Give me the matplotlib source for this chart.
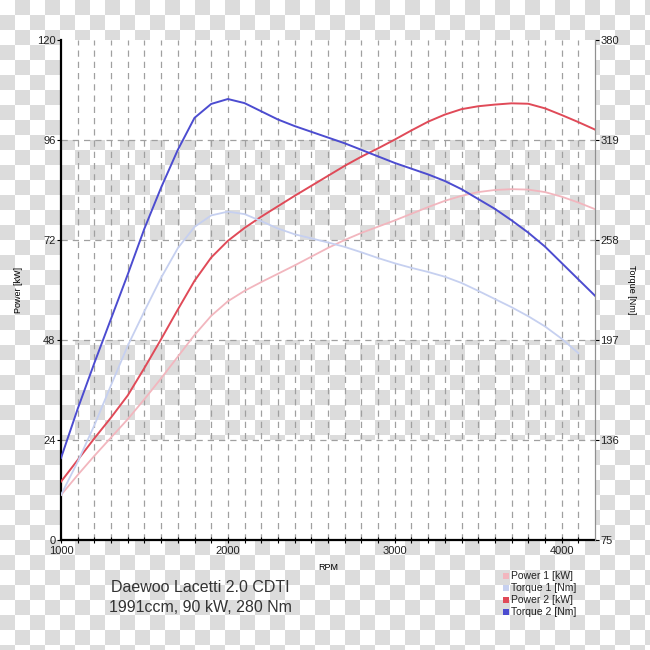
import numpy as np
import matplotlib
matplotlib.use("Agg")
import matplotlib.pyplot as plt
from matplotlib.patches import Rectangle

plt.rcParams['font.family'] = ['Liberation Sans', 'DejaVu Sans']

rpm = np.arange(1000, 4300, 100)

power1 = [10.8, 15.6, 20.2, 24.6, 29.0, 33.8, 38.8, 44.0, 49.2, 53.8, 57.3,
          59.8, 61.9, 63.9, 65.9, 68.0, 70.1, 72.0, 73.7, 75.2, 76.7, 78.3,
          79.9, 81.4, 82.6, 83.5, 84.0, 84.2, 84.1, 83.5, 82.4, 81.0, 79.4]
torque1 = [102.5, 122.7, 145.0, 169.5, 193.5, 214.6, 235.0, 253.0, 266.0,
           273.0, 275.3, 273.8, 269.5, 265.0, 261.5, 259.0, 256.5, 253.8,
           250.5, 247.0, 243.8, 241.0, 238.5, 235.6, 231.8, 227.0, 222.0,
           217.0, 211.5, 205.3, 197.8, 189.0]
power2 = [14.0, 19.2, 24.4, 29.4, 34.7, 41.3, 48.2, 55.3, 62.2, 67.8, 71.8,
          74.9, 77.6, 80.1, 82.6, 85.0, 87.4, 89.8, 92.0, 94.0, 96.1, 98.3,
          100.4, 102.1, 103.4, 104.1, 104.5, 104.8, 104.7, 103.6, 102.0,
          100.3, 98.5]
torque2 = [125, 155, 183, 210, 237, 265, 290, 313, 332.5, 341, 344, 341.5,
           336.5, 331.5, 327.5, 324, 320.5, 317, 313, 309, 305, 301.5, 298,
           294, 289, 283, 277, 270, 262.5, 254, 244, 234, 224]

labels = ["Power 1 [kW]", "Torque 1 [Nm]", "Power 2 [kW]", "Torque 2 [Nm]"]
colors = ["#f2b6be", "#c6d0f0", "#e04a58", "#4c4cd0"]

kw_ticks = [0, 24, 48, 72, 96, 120]
nm_ticks = [75, 136, 197, 258, 319, 380]

fig = plt.figure(figsize=(6.5, 6.5), dpi=100)

# checkerboard background (transparent png look)
yy, xx = np.mgrid[0:650, 0:650]
chk = ((xx // 15 + yy // 15) % 2).astype(float)
bg = np.ones((650, 650, 3))
bg[chk == 1] = 220 / 255
fig.figimage(bg, xo=0, yo=0, origin='upper', zorder=-10)

ax = fig.add_axes([61 / 650, 1 - 540 / 650, 534 / 650, 500 / 650])
ax.set_facecolor('none')
ax.set_xlim(1000, 4200)
ax.set_ylim(0, 120)

for lo, hi in [(0, 24), (48, 72), (96, 120)]:
    ax.axhspan(lo, hi, color='white', zorder=0, lw=0)

dash = (0, (5, 4))
for x in range(1100, 4200, 100):
    ax.axvline(x, color='#a0a0a0', lw=0.9, ls=dash, zorder=1)
for y in kw_ticks[1:-1]:
    ax.axhline(y, color='#a0a0a0', lw=0.9, ls=dash, zorder=1)

ax.set_xticks([1000, 2000, 3000, 4000])
ax.set_xticks(range(1000, 4200, 100), minor=True)
ax.set_yticks(kw_ticks)
ax.tick_params(axis='x', which='both', direction='inout', length=5, width=0.8,
               labelsize=8, pad=2, labelcolor='#222222')
ax.tick_params(axis='y', direction='out', length=3, width=0.8, labelsize=8,
               pad=1, labelcolor='#222222')

for s in ['left', 'bottom']:
    ax.spines[s].set_color('black')
    ax.spines[s].set_linewidth(1.6)
ax.spines['top'].set_visible(False)
ax.spines['right'].set_color('#909090')
ax.spines['right'].set_linewidth(0.8)

ax.set_ylabel("Power [kW]", fontsize=6.5, labelpad=10)
ax.set_xlabel("RPM", fontsize=6.5, labelpad=5)

ax2 = ax.twinx()
ax2.set_ylim(75, 380)
ax2.set_yticks(nm_ticks)
ax2.tick_params(axis='y', direction='out', length=3, width=0.8, labelsize=8,
                pad=1, labelcolor='#222222')
for s in ['left', 'bottom', 'top']:
    ax2.spines[s].set_visible(False)
ax2.spines['right'].set_color('#909090')
ax2.spines['right'].set_linewidth(0.8)
ax2.set_ylabel("Torque [Nm]", fontsize=6.5, rotation=270, labelpad=12)

ax.plot(rpm, power1, color=colors[0], lw=1.3, zorder=3)
ax2.plot(rpm[:len(torque1)], torque1, color=colors[1], lw=1.3, zorder=3)
ax.plot(rpm, power2, color=colors[2], lw=1.4, zorder=3)
ax2.plot(rpm, torque2, color=colors[3], lw=1.4, zorder=3)

fig.text(200 / 650, 1 - 588 / 650, "Daewoo Lacetti 2.0 CDTI", fontsize=11.5,
         color='#333333', ha='center', va='center')
fig.text(200 / 650, 1 - 608 / 650, "1991ccm, 90 kW, 280 Nm", fontsize=11.5,
         color='#333333', ha='center', va='center')

# legend, little colour squares + text
for i, (lab, c) in enumerate(zip(labels, colors)):
    yc = 576 + i * 12
    fig.patches.append(Rectangle((503 / 650, 1 - (yc + 3) / 650), 6 / 650, 6 / 650,
                                 transform=fig.transFigure, color=c, lw=0))
    fig.text(511 / 650, 1 - yc / 650, lab, color='#222222', fontsize=7.5,
             ha='left', va='center')

fig.savefig("out.png", dpi=100)
